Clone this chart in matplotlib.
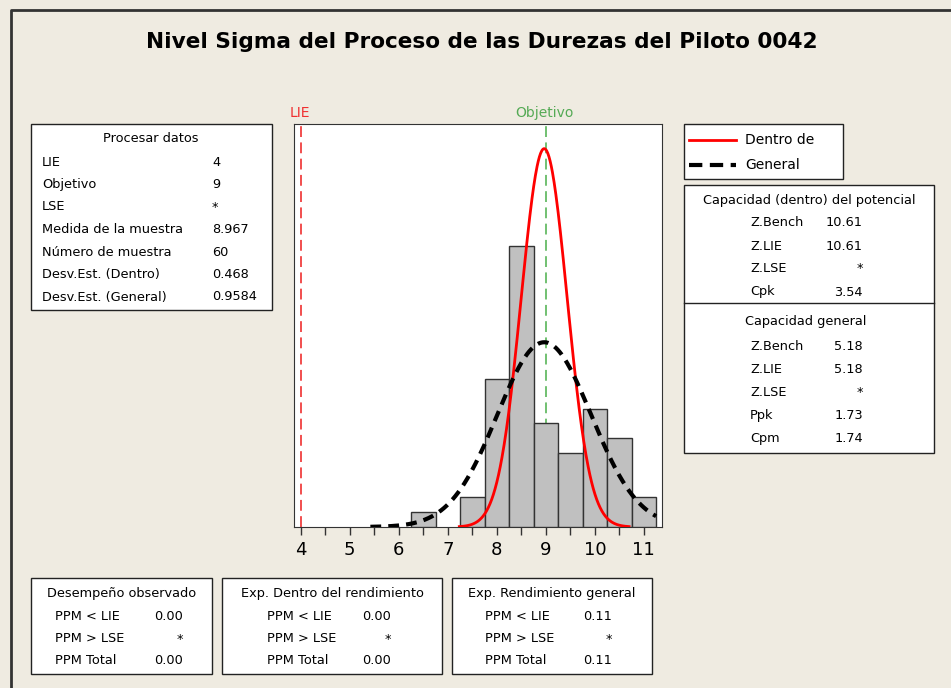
import numpy as np
import matplotlib
matplotlib.use("Agg")
import matplotlib.pyplot as plt
from matplotlib.lines import Line2D
from matplotlib.patches import Rectangle

# datos del histograma (centros de clase, ancho 0.5) y conteos
centros = [6.5, 7.5, 8.0, 8.5, 9.0, 9.5, 10.0, 10.5, 11.0]
conteos = [1, 2, 10, 19, 7, 5, 8, 6, 2]
ancho = 0.5

lie = 4
objetivo = 9
media = 8.967
n = 60
sd_dentro = 0.468
sd_general = 0.9584

procesar_etq = ["LIE", "Objetivo", "LSE", "Medida de la muestra", "Número de muestra",
                "Desv.Est. (Dentro)", "Desv.Est. (General)"]
procesar_val = ["4", "9", "*", "8.967", "60", "0.468", "0.9584"]

cap_dentro_etq = ["Z.Bench", "Z.LIE", "Z.LSE", "Cpk"]
cap_dentro_val = ["10.61", "10.61", "*", "3.54"]
cap_general_etq = ["Z.Bench", "Z.LIE", "Z.LSE", "Ppk", "Cpm"]
cap_general_val = ["5.18", "5.18", "*", "1.73", "1.74"]

ppm_etq = ["PPM < LIE", "PPM > LSE", "PPM Total"]
ppm_titulos = ["Desempeño observado", "Exp. Dentro del rendimiento", "Exp. Rendimiento general"]
ppm_obs = ["0.00", "*", "0.00"]
ppm_dentro = ["0.00", "*", "0.00"]
ppm_general = ["0.11", "*", "0.11"]

fondo = "#EFEBE1"
W, H = 951, 688
fig = plt.figure(figsize=(W / 100, H / 100), dpi=100, facecolor=fondo)
plt.rcParams['font.family'] = ['DejaVu Sans']


def fx(px):
    return px / W


def fy(py):
    return 1 - py / H


def texto(x, y, s, ha="left", size=9.3, **kw):
    fig.text(fx(x), fy(y), s, ha=ha, va="center", fontsize=size, **kw)


def caja(x0, y0, x1, y1):
    fig.patches.append(Rectangle((fx(x0), fy(y1)), fx(x1) - fx(x0), fy(y0) - fy(y1),
                                 transform=fig.transFigure, facecolor="white",
                                 edgecolor="#222222", lw=1.0, zorder=1))


# marco exterior
fig.lines.append(Line2D([fx(11), fx(11), fx(951)], [fy(688), fy(10), fy(10)],
                        transform=fig.transFigure, color="#333333", lw=2))

texto(482, 42, "Nivel Sigma del Proceso de las Durezas del Piloto 0042",
      ha="center", size=15.6, fontweight="bold")

# histograma
ax = fig.add_axes([fx(294), fy(527), fx(662) - fx(294), fy(124) - fy(527)])
dens = [c / (n * ancho) for c in conteos]
ax.bar(centros, dens, width=ancho, color="#C0C0C0", edgecolor="#333333", lw=1, zorder=3)

x_d = np.linspace(media - 3.7 * sd_dentro, media + 3.7 * sd_dentro, 300)
y_d = np.exp(-0.5 * ((x_d - media) / sd_dentro) ** 2) / (sd_dentro * np.sqrt(2 * np.pi))
ax.plot(x_d, y_d, color="red", lw=2, zorder=4)

x_g = np.linspace(media - 3.7 * sd_general, max(centros) + ancho / 2, 300)
y_g = np.exp(-0.5 * ((x_g - media) / sd_general) ** 2) / (sd_general * np.sqrt(2 * np.pi))
ax.plot(x_g, y_g, color="black", lw=3, dashes=(2.6, 1.7), zorder=5)

ax.axvline(lie, color="#F04040", lw=1.3, dashes=(6, 3), zorder=2)
ax.axvline(objetivo, color="#66BB66", lw=1.3, dashes=(6, 3), zorder=2)

ax.set_xlim(3.863, 11.37)
ax.set_ylim(0, 0.908)
ax.set_yticks([])
ax.set_xticks(range(4, 12))
ax.set_xticks(np.arange(4.5, 11.5, 1.0), minor=True)
ax.tick_params(axis="x", which="both", direction="out", length=6, width=1, labelsize=13,
               color="#333333", pad=4)
for s in ax.spines.values():
    s.set_color("#333333")

texto(300, 113, "LIE", ha="center", size=10, color="#F03030")
texto(544, 113, "Objetivo", ha="center", size=10, color="#55AA55")

# procesar datos
caja(31, 124, 272, 310)
texto(151, 139, "Procesar datos", ha="center")
for i, (e, v) in enumerate(zip(procesar_etq, procesar_val)):
    y = 162 + i * 22.5
    texto(42, y, e)
    texto(212, y, v)

# leyenda
caja(684, 124, 843, 179)
fig.lines.append(Line2D([fx(689), fx(736)], [fy(140), fy(140)], transform=fig.transFigure,
                        color="red", lw=2))
fig.lines.append(Line2D([fx(689), fx(736)], [fy(165), fy(165)], transform=fig.transFigure,
                        color="black", lw=3, dashes=(3.2, 1.8)))
texto(745, 140, "Dentro de", size=10)
texto(745, 165, "General", size=10)

# capacidad
caja(684, 185, 934, 453)
fig.lines.append(Line2D([fx(684), fx(934)], [fy(303), fy(303)], transform=fig.transFigure,
                        color="#222222", lw=1))
texto(809, 200, "Capacidad (dentro) del potencial", ha="center")
for i, (e, v) in enumerate(zip(cap_dentro_etq, cap_dentro_val)):
    y = 223 + i * 23
    texto(750, y, e)
    texto(863, y, v, ha="right")
texto(806, 321, "Capacidad general", ha="center")
for i, (e, v) in enumerate(zip(cap_general_etq, cap_general_val)):
    y = 347 + i * 22.8
    texto(750, y, e)
    texto(863, y, v, ha="right")

# cajas PPM
cajas_ppm = [(31, 212, 55, 183, ppm_obs), (222, 442, 267, 391, ppm_dentro),
             (452, 652, 485, 612, ppm_general)]
for (x0, x1, xe, xv, vals), tit in zip(cajas_ppm, ppm_titulos):
    caja(x0, 578, x1, 674)
    texto((x0 + x1) / 2, 593, tit, ha="center")
    for i, (e, v) in enumerate(zip(ppm_etq, vals)):
        y = 617 + i * 22
        texto(xe, y, e)
        texto(xv, y, v, ha="right")

fig.savefig("out.png", dpi=100, facecolor=fondo)
